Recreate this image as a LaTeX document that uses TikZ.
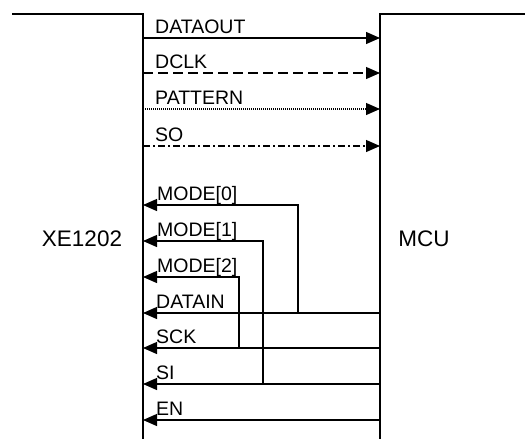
\documentclass[tikz,border=0pt]{standalone}
\usepackage{fontspec}
\setmainfont{Liberation Sans}
\usetikzlibrary{arrows.meta, positioning}

\begin{document}
\begin{tikzpicture}[x=1pt, y=-1pt,
  chip/.style={line width=1.5pt},
  sig/.style={line width=1.2pt, -{Triangle[length=14pt, width=12pt]}},
  siglabel/.style={anchor=base west, inner sep=0pt, font=\fontsize{19.5}{21}\selectfont},
  chipname/.style={font=\fontsize{22.5}{24}\selectfont}]
  \useasboundingbox (0,0) rectangle (525,439);

  % chip outlines
  \draw[chip] (12,14) -- (143,14) -- (143,439);
  \draw[chip] (380,439) -- (380,14) -- (525,14);
  \node[chipname] (xe) at (82,239) {XE1202};
  \node[chipname] (mcu) at (424,239) {MCU};

  % pins on both sides
  \foreach \n/\y in {dataout/38, dclk/73, pattern/109, so/146, mode0/205, mode1/241,
                     mode2/277, datain/313, sck/348, si/384, en/420} {
    \coordinate (\n-xe) at (143,\y);
    \coordinate (\n-mcu) at (380,\y);
  }

  % XE1202 -> MCU
  \draw[sig] (dataout-xe) -- (dataout-mcu);
  \draw[sig, dash pattern=on 10pt off 5pt] (dclk-xe) -- (dclk-mcu);
  \draw[sig, dash pattern=on 1pt off 1pt] (pattern-xe) -- (pattern-mcu);
  \draw[sig, dash pattern=on 7pt off 3pt on 2pt off 3pt] (so-xe) -- (so-mcu);

  % MCU -> XE1202
  \draw[sig] (datain-mcu) -- (datain-xe);
  \draw[sig] (sck-mcu) -- (sck-xe);
  \draw[sig] (si-mcu) -- (si-xe);
  \draw[sig] (en-mcu) -- (en-xe);

  % mode pins tied to the serial lines
  \coordinate (mode0-tap) at (298,313);
  \coordinate (mode1-tap) at (263,384);
  \coordinate (mode2-tap) at (239,348);
  \draw[sig] (mode0-tap) |- (mode0-xe);
  \draw[sig] (mode1-tap) |- (mode1-xe);
  \draw[sig] (mode2-tap) |- (mode2-xe);

  % signal names
  \foreach \n/\t/\x/\y in {dataout/DATAOUT/155/33, dclk/DCLK/155/68, pattern/PATTERN/155/104,
                           so/SO/155/141, mode0/{MODE[0]}/157/200, mode1/{MODE[1]}/157/236,
                           mode2/{MODE[2]}/157/272, datain/DATAIN/156/308, sck/SCK/156/343,
                           si/SI/156/379, en/EN/156/415}
    \node[siglabel] (\n-label) at (\x,\y) {\t};
\end{tikzpicture}
\end{document}
